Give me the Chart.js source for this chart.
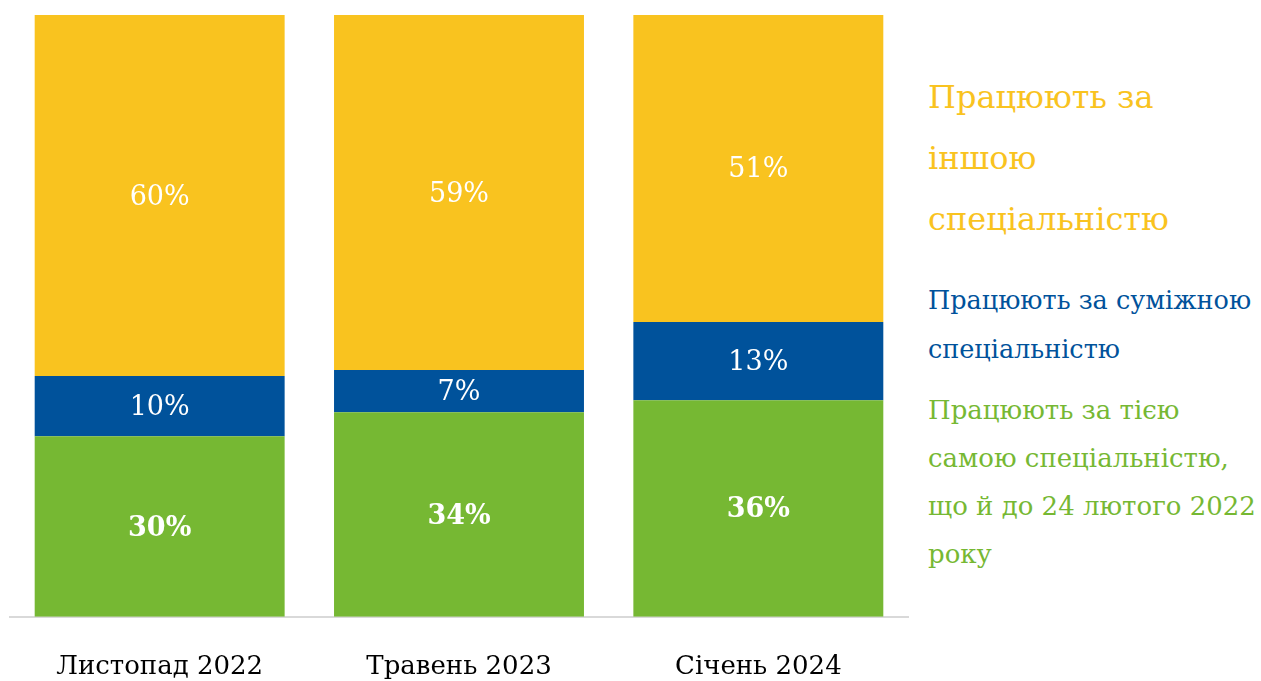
<!DOCTYPE html>
<html>
<head>
<meta charset="utf-8">
<script src="https://cdn.jsdelivr.net/npm/chart.js@4.4.0/dist/chart.umd.min.js"></script>
<style>
  body { margin: 0; background: #fff; font-family: "DejaVu Serif", serif; overflow: hidden; }
  #wrap { position: absolute; left: 0; top: 0; width: 918px; height: 710px; }
  .leg { position: absolute; left: 928px; margin: 0; white-space: nowrap; }
  #l1 { top: 67px; color: #f9c31f; font-size: 32px; line-height: 61px; }
  #l2 { top: 276px; color: #00529b; font-size: 25.5px; line-height: 49px; }
  #l3 { top: 386px; color: #76b833; font-size: 26px; line-height: 48px; }
</style>
</head>
<body>
<div id="wrap"><canvas id="chart"></canvas></div>
<div class="leg" id="l1">Працюють за<br>іншою<br>спеціальністю</div>
<div class="leg" id="l2">Працюють за суміжною<br>спеціальністю</div>
<div class="leg" id="l3">Працюють за тією<br>самою спеціальністю,<br>що й до 24 лютого 2022<br>року</div>
<script>
var categories = ["Листопад 2022", "Травень 2023", "Січень 2024"]
var same = [30, 34, 36]
var related = [10, 7, 13]
var other = [60, 59, 51]

// white % labels in the middle of each segment
var barLabels = {
  id: "barLabels",
  afterDatasetsDraw(chart) {
    var ctx = chart.ctx
    ctx.save()
    ctx.textAlign = "center"
    ctx.textBaseline = "middle"
    ctx.fillStyle = "#ffffff"
    chart.data.datasets.forEach((ds, i) => {
      var meta = chart.getDatasetMeta(i)
      ctx.font = (i == 0 ? "bold " : "") + "27px 'DejaVu Serif'"
      meta.data.forEach((bar, j) => {
        var mid = (bar.y + bar.base) / 2
        ctx.fillText(ds.data[j] + "%", bar.x, mid + 2)
      })
    })
    ctx.restore()
  }
}

var ctx = document.getElementById("chart").getContext("2d")
var chart = new Chart(ctx, {
  type: "bar",
  data: {
    labels: categories,
    datasets: [
      { label: "same", data: same, backgroundColor: "#76b833" },
      { label: "related", data: related, backgroundColor: "#00529b" },
      { label: "other", data: other, backgroundColor: "#f9c31f" }
    ]
  },
  options: {
    responsive: true,
    maintainAspectRatio: false,
    animation: false,
    layout: { padding: { left: 10, right: 10, top: 15, bottom: 0 } },
    plugins: { legend: { display: false }, tooltip: { enabled: false } },
    datasets: { bar: { categoryPercentage: 1, barPercentage: 0.835 } },
    scales: {
      x: {
        stacked: true,
        grid: { display: false },
        border: { display: true, color: "#d9d9d9", width: 2 },
        ticks: { color: "#000", padding: 27, font: { family: "DejaVu Serif", size: 26 } }
      },
      y: {
        stacked: true,
        display: false,
        min: 0,
        max: 100
      }
    }
  },
  plugins: [barLabels]
})
</script>
</body>
</html>
